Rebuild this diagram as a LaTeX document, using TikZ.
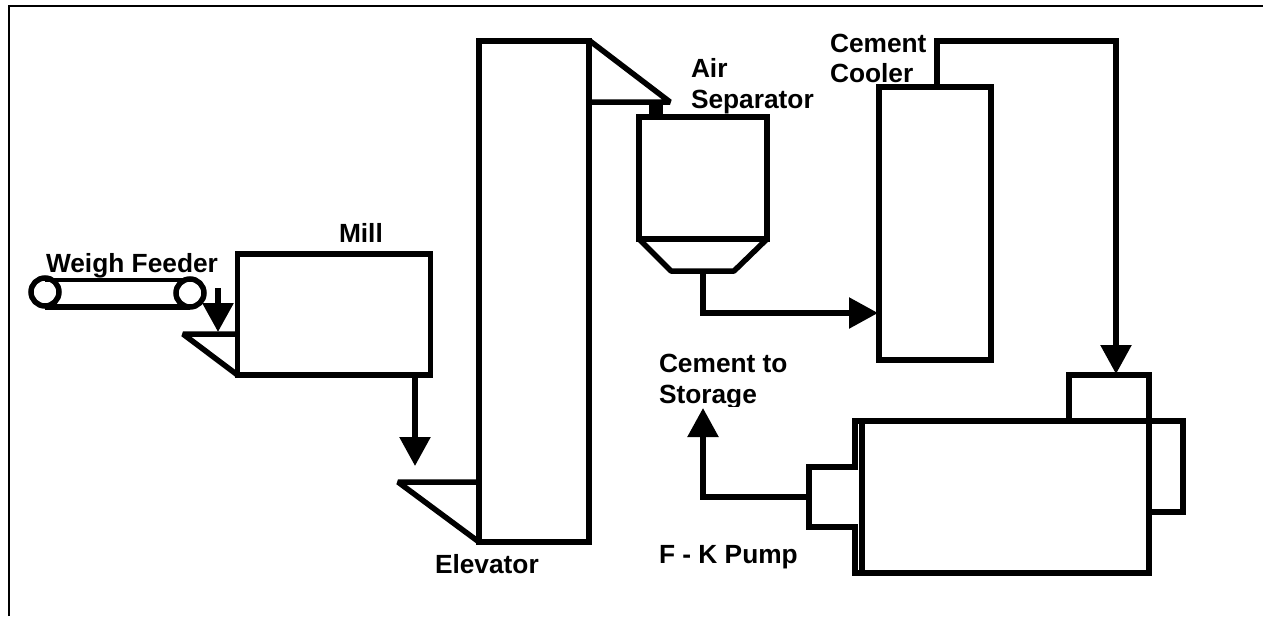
\documentclass[tikz,border=0pt]{standalone}
\usepackage{fontspec}
\setmainfont{Liberation Sans}
\usetikzlibrary{arrows.meta}
\tikzset{
  heavy/.style={line width=5.5pt,line cap=butt,line join=miter},
  hopperline/.style={line width=5.5pt,line cap=butt,line join=bevel},
  box/.style={draw,heavy,rectangle,outer sep=0pt,inner sep=0pt,anchor=north west},
  flow/.style={heavy,-{Triangle[length=29pt,width=30pt]}},
  label/.style={anchor=base west,inner sep=0pt,outer sep=0pt,font=\fontsize{26.3pt}{30pt}\selectfont\bfseries},
  pulley/.style={draw,line width=5.5pt,circle,minimum size=28pt,inner sep=0pt,outer sep=0pt},
  frameline/.style={line width=2pt}
}
\begin{document}
\begin{tikzpicture}[x=1pt,y=-1pt]
\useasboundingbox (0,0) rectangle (1263,616);
\fill[white] (0,0) rectangle (1263,616);
% frame
\coordinate (frameA) at (9,616);
\coordinate (frameB) at (9,6);
\coordinate (frameC) at (1263,6);
\draw[frameline] (frameA) -- (frameB) -- (frameC);
% weigh feeder
\node[pulley] (pulleyL) at (45,292) {};
\node[pulley] (pulleyR) at (190,293) {};
\draw[line width=4.5pt] (45,280) -- (190,280);
\draw[heavy] (45,307) -- (190,307);
% mill
\node[box,line width=5.7pt,minimum width=193pt,minimum height=121pt] (mill) at (237.5,254) {};
\coordinate (millHopL) at (183,334);
\coordinate (millHopT) at (237.5,334);
\coordinate (millHopB) at (237.5,375);
\draw[hopperline] (millHopT) -- (millHopL) -- (millHopB);
\coordinate (feedStart) at (218,288);
\coordinate (feedEnd) at (218,332);
\draw[flow,line width=6pt] (feedStart) -- (feedEnd);
% elevator
\node[box,minimum width=110pt,minimum height=501pt] (elev) at (479,41) {};
\coordinate (elevHopT) at (479,482);
\coordinate (elevHopL) at (398,482);
\coordinate (elevHopB) at (479,542);
\draw[hopperline] (elevHopT) -- (elevHopL) -- (elevHopB);
\coordinate (millOut) at (415,375);
\coordinate (elevIn) at (415,466);
\draw[flow] (millOut) -- (elevIn);
% elevator head
\coordinate (headT) at (590,41);
\coordinate (headR) at (670,102);
\coordinate (headB) at (589,102);
\draw[hopperline] (headT) -- (headR) -- (headB);
\fill (649,102) rectangle (663,116);
% air separator
\node[box,minimum width=128pt,minimum height=122pt] (sep) at (639,117) {};
\coordinate (coneA) at (639,239);
\coordinate (coneB) at (671,271);
\coordinate (coneC) at (734,271);
\coordinate (coneD) at (767,239);
\draw[hopperline] (coneA) -- (coneB) -- (coneC) -- (coneD);
% cooler
\node[box,minimum width=112pt,minimum height=273pt] (cool) at (879,87) {};
\coordinate (sepOut) at (703,271);
\coordinate (sepBend) at (703,313);
\coordinate (coolIn) at (878,313);
\draw[flow] (sepOut) -- (sepBend) -- (coolIn);
\coordinate (coolOut) at (937,87);
\coordinate (coolB1) at (937,41);
\coordinate (coolB2) at (1116,41);
\coordinate (pumpIn) at (1116,374);
\draw[flow] (coolOut) -- (coolB1) -- (coolB2) -- (pumpIn);
% pump
\node[box,minimum width=80pt,minimum height=46pt] (hop) at (1069,375) {};
\node[box,minimum width=287pt,minimum height=152pt] (pump) at (862,421) {};
\coordinate (outerA) at (885,421);
\coordinate (outerB) at (855,421);
\coordinate (outerC) at (855,467);
\coordinate (nozTL) at (809,467);
\coordinate (nozBL) at (809,527);
\coordinate (outerD) at (855,527);
\coordinate (outerE) at (855,573);
\coordinate (outerF) at (885,573);
\draw[heavy] (outerA) -- (outerB) -- (outerC) -- (nozTL) -- (nozBL) -- (outerD) -- (outerE) -- (outerF);
\coordinate (tabA) at (1149,421);
\coordinate (tabB) at (1183,421);
\coordinate (tabC) at (1183,512);
\coordinate (tabD) at (1149,512);
\draw[heavy] (tabA) -- (tabB) -- (tabC) -- (tabD);
% labels
\node[label] (tWeigh) at (46,272) {Weigh Feeder};
\node[label] (tMill) at (339,242) {Mill};
\node[label] (tElev) at (435,573) {Elevator};
\node[label] (tAir) at (691,77) {Air};
\node[label] (tSep) at (691,108) {Separator};
\node[label] (tCem) at (830,52) {Cement};
\node[label] (tCoo) at (830,82) {Cooler};
\node[label] (tCto) at (659,372) {Cement to};
\node[label] (tSto) at (659,403) {Storage};
\node[label] (tFK) at (659,563) {F - K Pump};
% the descender of Storage is cut off in the reference
\fill[white] (659,406.5) rectangle (765,414);
\coordinate (nozOut) at (809,497);
\coordinate (storBend) at (703,497);
\coordinate (storTip) at (703,408);
\draw[flow] (nozOut) -- (storBend) -- (storTip);
\end{tikzpicture}
\end{document}
